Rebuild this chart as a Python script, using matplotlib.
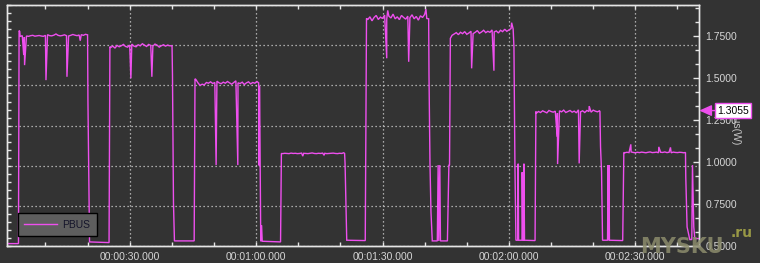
import numpy as np
import matplotlib
matplotlib.use("Agg")
import matplotlib.pyplot as plt
from matplotlib.ticker import MultipleLocator, FuncFormatter

plt.rcParams['font.family'] = ['Liberation Sans', 'DejaVu Sans']

# ---------------- data (seconds, watts) ----------------
SAMPLE_DT = 0.5

# plateau segments: start time + sampled values
p1_start = 4.0
p1_vals = [1.745, 1.750, 1.742, 1.748, 1.746, 1.750, 1.752, 1.747, 1.749, 1.751, 1.748,
           1.746, 1.752, 1.756, 1.750, 1.749, 1.753, 1.760, 1.752, 1.749, 1.751, 1.755,
           1.750, 1.748, 1.752, 1.757, 1.753, 1.750, 1.754, 1.756, 1.752, 1.758]
p2_start = 25.5
p2_vals = [1.680, 1.688, 1.676, 1.692, 1.684, 1.690, 1.698, 1.686, 1.682, 1.694, 1.700,
           1.688, 1.684, 1.696, 1.690, 1.702, 1.694, 1.686, 1.698, 1.692, 1.688, 1.700,
           1.694, 1.682, 1.690, 1.696, 1.688, 1.694, 1.690]
p3_start = 45.7
p3_vals = [1.490, 1.470, 1.455, 1.462, 1.458, 1.472, 1.468, 1.476, 1.466, 1.472, 1.480,
           1.470, 1.465, 1.474, 1.468, 1.478, 1.470, 1.462, 1.472, 1.482, 1.470, 1.466,
           1.474, 1.460, 1.470, 1.476, 1.464, 1.472, 1.468, 1.478]
p4_start = 66.3
p4_vals = [1.050, 1.052, 1.051, 1.050, 1.053, 1.051, 1.052, 1.050, 1.051, 1.053, 1.052,
           1.051, 1.050, 1.052, 1.054, 1.051, 1.050, 1.052, 1.051, 1.053, 1.052, 1.050,
           1.051, 1.052, 1.053, 1.051, 1.050, 1.052, 1.051, 1.055]
p5_start = 86.5
p5_vals = [1.845, 1.862, 1.838, 1.858, 1.870, 1.846, 1.860, 1.852, 1.872, 1.848, 1.866,
           1.855, 1.878, 1.850, 1.862, 1.845, 1.870, 1.858, 1.848, 1.866, 1.856, 1.874,
           1.850, 1.864, 1.842, 1.868, 1.858, 1.876, 1.852]
p6_start = 106.5
p6_vals = [1.752, 1.760, 1.768, 1.756, 1.770, 1.762, 1.774, 1.758, 1.766, 1.776, 1.762,
           1.770, 1.780, 1.764, 1.772, 1.782, 1.768, 1.776, 1.770, 1.784, 1.772, 1.778,
           1.766, 1.782, 1.774, 1.788, 1.776, 1.784, 1.792]
p7_start = 126.5
p7_vals = [1.290, 1.300, 1.294, 1.304, 1.298, 1.292, 1.306, 1.300, 1.296, 1.302, 1.290,
           1.304, 1.298, 1.308, 1.294, 1.300, 1.306, 1.296, 1.302, 1.292, 1.310, 1.298,
           1.304, 1.294, 1.306, 1.300, 1.296, 1.308, 1.302, 1.298, 1.304]
p8_start = 147.5
p8_vals = [1.055, 1.058, 1.056, 1.060, 1.057, 1.055, 1.058, 1.056, 1.059, 1.057, 1.055,
           1.058, 1.060, 1.056, 1.057, 1.059, 1.055, 1.058, 1.057, 1.060, 1.056, 1.058,
           1.055, 1.059, 1.057, 1.056, 1.058, 1.057, 1.055]

# edges, idle levels, dips and spikes
event_t = [0.9, 3.6, 3.75, 3.9, 4.85, 5.05, 10.13, 15.11, 18.26, 20.0, 20.09, 20.47, 25.1,
           25.3, 30.28, 35.26, 40.05, 40.15, 40.39, 40.62, 45.3,
           45.5, 50.51, 55.66, 60.6, 60.7, 60.8, 60.9, 61.1, 61.3, 61.45, 65.8,
           66.0, 71.07, 76.13, 81.0, 81.11, 81.51, 85.9,
           86.2, 91.0, 91.23, 96.21, 100.31, 100.95, 101.03, 101.26, 101.5, 101.81,
           103.0, 103.2, 103.35, 103.6, 103.75, 105.4, 105.75, 105.9, 106.1,
           111.15, 116.44, 120.64, 121.0, 121.19, 121.42, 121.66, 122.1, 122.2, 122.3,
           123.1, 123.15, 123.3, 123.5, 123.56, 123.7, 126.2,
           126.4, 131.45, 131.55, 136.67, 139.04, 141.6, 141.74, 141.98, 142.22,
           143.4, 143.55, 143.65, 143.75, 143.85, 147.0,
           147.27, 148.93, 155.57, 158.34, 161.9, 161.97, 162.28, 162.92, 163.4,
           163.56, 163.87, 164.11, 165.3]
event_v = [0.516, 0.516, 1.780, 1.775, 1.635, 1.575, 1.486, 1.506, 1.720, 1.755, 1.358, 0.526, 0.522,
           1.685, 1.497, 1.506, 1.690, 1.520, 0.756, 0.532, 0.532,
           1.494, 0.982, 0.982, 1.470, 0.980, 1.450, 1.210, 0.530, 0.625, 0.530, 0.526,
           1.051, 1.035, 1.040, 1.051, 0.992, 0.536, 0.534,
           1.853, 1.616, 1.900, 1.595, 1.907, 1.850, 1.516, 0.994, 0.704, 0.532,
           0.532, 0.982, 0.532, 0.982, 0.532, 0.532, 0.982, 0.982, 1.734,
           1.556, 1.542, 1.827, 1.790, 1.685, 0.992, 0.536, 0.536, 0.990, 0.536,
           0.536, 0.940, 0.536, 0.536, 0.990, 0.536, 0.534,
           1.300, 1.150, 0.988, 0.992, 1.332, 1.300, 1.090, 0.942, 0.536,
           0.536, 0.982, 0.536, 0.982, 0.536, 0.534,
           1.057, 1.105, 1.090, 1.087, 1.057, 0.912, 0.615, 0.540, 0.540,
           0.982, 0.615, 0.546, 0.546]

series_name = "PBUS"
marker_value = 1.3055
x_major_s = 30
x_minor_s = 10
y_major = 0.25
y_limits = (0.5, 1.932)
x_limits = (0.88, 165.18)

# ---------------- assemble series ----------------
ts, vs = list(event_t), list(event_v)
for start, vals in [(p1_start, p1_vals), (p2_start, p2_vals), (p3_start, p3_vals),
                    (p4_start, p4_vals), (p5_start, p5_vals), (p6_start, p6_vals),
                    (p7_start, p7_vals), (p8_start, p8_vals)]:
    ts += list(start + SAMPLE_DT * np.arange(len(vals)))
    vs += vals
order = np.argsort(ts)
t = np.asarray(ts)[order]
v = np.asarray(vs)[order]

# ---------------- figure ----------------
BG = '#333333'
FG = '#d6d6d6'
SPINE = '#e6e6e6'
LINE = '#ee4fee'
W, H = 760, 263

fig = plt.figure(figsize=(W / 100, H / 100), dpi=100, facecolor=BG)
ax = fig.add_axes([7 / W, 1 - 246.3 / H, 692.3 / W, 241.3 / H])
ax.set_facecolor(BG)
ax.set_xlim(*x_limits)
ax.set_ylim(0, 30)  # screen divisions (6 x 5)
ax.xaxis.set_major_locator(MultipleLocator(x_major_s))
ax.xaxis.set_minor_locator(MultipleLocator(x_minor_s))
ax.yaxis.set_major_locator(MultipleLocator(5))
ax.yaxis.set_minor_locator(MultipleLocator(1))
ax.grid(True, which='major', color='#d0d0d0', linestyle=(0, (1, 2.2)), linewidth=0.9)


def fmt_time(x, pos):
    s = int(round(x))
    return f"{s // 3600:02d}:{(s // 60) % 60:02d}:{s % 60:02d}.000"


ax.xaxis.set_major_formatter(FuncFormatter(fmt_time))
ax.tick_params(axis='x', which='both', direction='in', bottom=True, top=True,
               length=3, width=1, color=SPINE, labelcolor=FG, labelsize=7.5, pad=4)
ax.tick_params(axis='y', which='both', direction='in', left=True, right=False,
               labelleft=False, length=3, width=1, color=SPINE)
for s in ax.spines.values():
    s.set_color(SPINE)
    s.set_linewidth(1.0)

ax2 = ax.twinx()
ax2.set_ylim(*y_limits)
ax2.plot(t, v, color=LINE, lw=1.0, label=series_name, solid_joinstyle='miter')
ax2.yaxis.set_major_locator(MultipleLocator(y_major))
ax2.yaxis.set_minor_locator(MultipleLocator(y_major / 3))
ax2.yaxis.set_major_formatter(FuncFormatter(lambda y, p: f"{y:.4f}"))
ax2.tick_params(axis='y', which='major', direction='in', length=4, width=1,
                color=SPINE, labelcolor=FG, labelsize=7.5, pad=4.5)
ax2.tick_params(axis='y', which='minor', direction='in', length=3, width=1, color=SPINE)
for s in ax2.spines.values():
    s.set_color(SPINE)
    s.set_linewidth(1.0)

ax2.set_ylabel("Pbus(W)", rotation=270, color='#c8c8c8', fontsize=7.5,
               va='center', ha='center')
ax2.yaxis.set_label_coords(1.052, 0.5)

leg = ax2.legend(loc='lower left', bbox_to_anchor=(0.0159, 0.0427), frameon=True,
                 fancybox=False, facecolor='#5e5e5e', edgecolor='black', framealpha=1,
                 fontsize=7.5, handlelength=3.1, handletextpad=0.58, borderpad=0.6,
                 borderaxespad=0)
leg.get_frame().set_linewidth(1.0)
for txt in leg.get_texts():
    txt.set_color('#14142a')

ann = ax2.annotate(f"{marker_value:.4f}", xy=(1.0, marker_value),
                   xycoords=('axes fraction', 'data'), xytext=(34, 0),
                   textcoords='offset pixels', ha='center', va='center',
                   fontsize=7.5, color='black', annotation_clip=False, zorder=10,
                   bbox=dict(boxstyle='square,pad=0.22', fc='white', ec=LINE, lw=1.0),
                   arrowprops=dict(arrowstyle='-|>,head_length=1.0,head_width=0.45',
                                   color=LINE, lw=1.0, shrinkA=0, shrinkB=0))

# watermark
fig.text(640 / W, 1 - 253 / H, "MYSKU", fontsize=15, fontweight='bold',
         color='#8c8c6c', alpha=0.85, ha='left', va='baseline', family='DejaVu Sans')
fig.text(731 / W, 1 - 237 / H, ".ru", fontsize=10, fontweight='bold',
         color='#a4a448', alpha=0.9, ha='left', va='baseline', family='DejaVu Sans')

fig.savefig("out.png", dpi=100, facecolor=BG)
